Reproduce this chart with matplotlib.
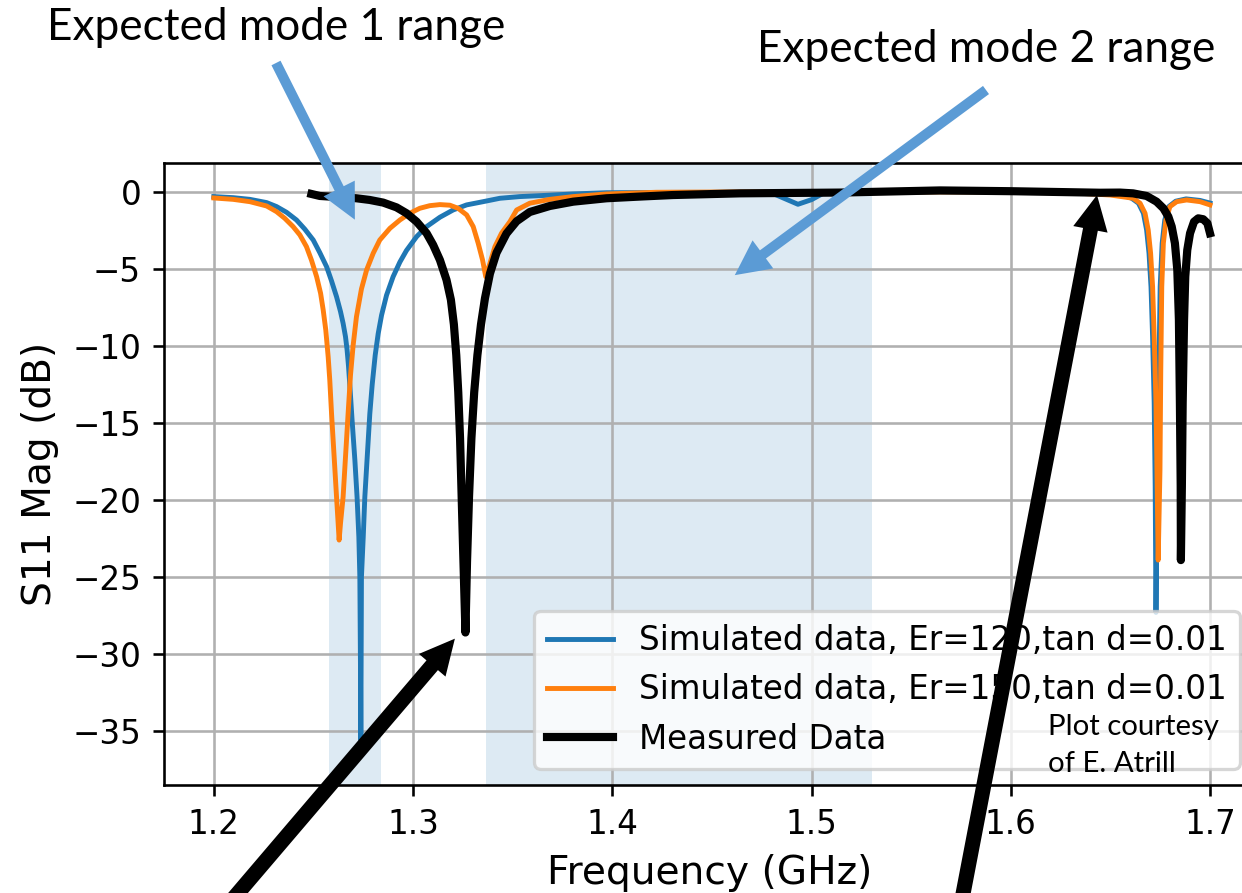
import matplotlib
matplotlib.use("Agg")
import matplotlib.pyplot as plt

# ---- measured / simulated S11 magnitude (dB) versus frequency (GHz) ----
sim120_freq = [1.2000, 1.2097, 1.2181, 1.2265, 1.2315, 1.2365, 1.2415, 1.2457, 1.2499, 1.2532,
               1.2566, 1.2591, 1.2616, 1.2636, 1.2649, 1.2661, 1.2669, 1.2676, 1.2684, 1.2694,
               1.2708, 1.2719, 1.2728, 1.2733, 1.2736, 1.2738, 1.2741, 1.2750, 1.2758, 1.2770,
               1.2783, 1.2795, 1.2810, 1.2825, 1.2842, 1.2867, 1.2900, 1.2934, 1.2967, 1.3018,
               1.3068, 1.3135, 1.3201, 1.3269, 1.3352, 1.3436, 1.3536, 1.3637, 1.3802, 1.3971,
               1.4300, 1.4600, 1.4806, 1.4860, 1.4932, 1.5000, 1.5057, 1.5200, 1.5500, 1.6000,
               1.6400, 1.6550, 1.6607, 1.6641, 1.6666, 1.6682, 1.6694, 1.6704, 1.6712, 1.6720,
               1.6725, 1.6729, 1.6735, 1.6742, 1.6750, 1.6760, 1.6773, 1.6793, 1.6828, 1.6880,
               1.6950, 1.7000]
sim120_db = [-0.30, -0.37, -0.48, -0.69, -0.95, -1.32, -1.82, -2.42, -3.12, -3.94,
             -4.85, -5.78, -6.80, -7.77, -8.53, -9.40, -10.26, -11.3, -12.8, -14.8,
             -17.4, -19.8, -22.4, -25.0, -30.6, -35.6, -25.0, -22.4, -19.8, -17.2,
             -14.4, -12.5, -10.6, -9.2, -8.0, -6.7, -5.5, -4.55, -3.8, -2.9,
             -2.25, -1.64, -1.17, -0.84, -0.63, -0.41, -0.30, -0.24, -0.13, -0.05,
             -0.03, -0.03, -0.1, -0.4, -0.8, -0.5, -0.1, -0.03, 0.0, 0.0,
             -0.05, -0.15, -0.41, -0.73, -1.38, -2.47, -3.98, -6.15, -9.4, -13.7,
             -19.1, -27.3, -20.0, -13.0, -6.15, -3.33, -1.82, -0.95, -0.6, -0.45,
             -0.55, -0.72]

sim150_freq = [1.2000, 1.2097, 1.2181, 1.2265, 1.2315, 1.2356, 1.2398, 1.2432, 1.2465, 1.2490,
               1.2516, 1.2536, 1.2549, 1.2562, 1.2574, 1.2582, 1.2591, 1.2604, 1.2616, 1.2624,
               1.2629, 1.2636, 1.2649, 1.2661, 1.2674, 1.2686, 1.2699, 1.2716, 1.2741, 1.2767,
               1.2800, 1.2833, 1.2884, 1.2934, 1.2984, 1.3034, 1.3084, 1.3135, 1.3185, 1.3226,
               1.3269, 1.3302, 1.3327, 1.3349, 1.3365, 1.3386, 1.3411, 1.3444, 1.3486, 1.3520,
               1.3586, 1.3687, 1.3804, 1.3971, 1.4222, 1.4600, 1.5000, 1.5500, 1.6000, 1.6300,
               1.6500, 1.6615, 1.6649, 1.6674, 1.6690, 1.6702, 1.6712, 1.6720, 1.6729, 1.6735,
               1.6740, 1.6749, 1.6753, 1.6758, 1.6766, 1.6779, 1.6799, 1.6833, 1.6883, 1.6950,
               1.7000]
sim150_db = [-0.39, -0.48, -0.63, -0.91, -1.28, -1.71, -2.25, -2.79, -3.55, -4.42,
             -5.5, -6.58, -7.66, -8.96, -10.7, -12.2, -14.4, -17.2, -19.8, -21.5,
             -22.6, -21.5, -19.8, -17.2, -14.4, -11.9, -10.0, -8.1, -6.3, -5.06,
             -3.98, -3.12, -2.36, -1.82, -1.38, -1.06, -0.89, -0.82, -0.86, -1.06,
             -1.49, -2.25, -3.33, -4.42, -5.5, -4.63, -3.55, -2.68, -1.93, -1.17,
             -0.73, -0.48, -0.3, -0.13, -0.02, 0.0, 0.0, 0.0, 0.0, -0.05,
             -0.2, -0.41, -0.73, -1.38, -2.47, -3.98, -6.15, -9.4, -13.7, -19.1,
             -23.9, -18.05, -11.6, -6.15, -3.33, -1.82, -0.95, -0.63, -0.52, -0.63,
             -0.84]

meas_freq = [1.2490, 1.2532, 1.2716, 1.2783, 1.2850, 1.2917, 1.2967, 1.3018, 1.3068, 1.3101,
             1.3135, 1.3168, 1.3190, 1.3205, 1.3217, 1.3227, 1.3236, 1.3244, 1.3253, 1.3263,
             1.3271, 1.3281, 1.3293, 1.3307, 1.3323, 1.3341, 1.3361, 1.3386, 1.3419, 1.3469,
             1.3520, 1.3586, 1.3687, 1.3804, 1.3971, 1.4139, 1.4304, 1.4641, 1.5143, 1.5645,
             1.6000, 1.6448, 1.6548, 1.6614, 1.6682, 1.6732, 1.6766, 1.6791, 1.6808, 1.6824,
             1.6836, 1.6844, 1.6849, 1.6853, 1.6854, 1.6859, 1.6863, 1.6870, 1.6876, 1.6886,
             1.6900, 1.6920, 1.6941, 1.6966, 1.6987, 1.7000]
meas_db = [-0.13, -0.26, -0.41, -0.52, -0.69, -1.0, -1.38, -1.93, -2.68, -3.44,
           -4.42, -5.71, -7.0, -8.6, -10.6, -13.0, -16.0, -19.8, -24.0, -28.6,
           -24.0, -19.8, -16.0, -13.0, -10.6, -8.6, -6.9, -5.3, -3.95, -2.7,
           -1.9, -1.3, -0.91, -0.63, -0.41, -0.3, -0.2, -0.09, -0.04, 0.1,
           0.05, -0.05, -0.04, -0.09, -0.26, -0.63, -1.06, -1.6, -2.25, -3.33,
           -5.06, -8.3, -13.7, -19.1, -23.9, -19.1, -13.7, -8.3, -5.5, -3.77,
           -2.68, -1.93, -1.71, -1.77, -2.03, -2.68]

series_labels = ["Simulated data, Er=120,tan d=0.01",
                 "Simulated data, Er=150,tan d=0.01",
                 "Measured Data"]

# expected frequency windows of the two modes (GHz)
mode1_range = (1.2578, 1.2839)
mode2_range = (1.3367, 1.5302)

# points the callout arrows indicate (GHz, dB)
mode1_target = (1.2708, -1.8)
mode2_target = (1.4615, -5.4)
meas_dip_target = (1.3210, -29.0)
meas_flat_target = (1.6433, -0.2)

W, H, DPI = 1242, 893, 235
fig = plt.figure(figsize=(W / DPI, H / DPI), dpi=DPI)

def fx(x):
    return x / W

def fy(y):
    return 1 - y / H

ax = fig.add_axes([fx(164), fy(785), fx(1256) - fx(164), fy(163) - fy(785)])

for lo, hi in (mode1_range, mode2_range):
    ax.axvspan(lo, hi, color="C0", alpha=0.15, lw=0)

ax.plot(sim120_freq, sim120_db, color="C0", lw=1.5, label=series_labels[0])
ax.plot(sim150_freq, sim150_db, color="C1", lw=1.5, label=series_labels[1])
ax.plot(meas_freq, meas_db, color="black", lw=2.5, label=series_labels[2])

ax.set_xlim(1.175, 1.7231)
ax.set_ylim(-38.5, 1.88)
ax.set_xticks([1.2, 1.3, 1.4, 1.5, 1.6, 1.7])
ax.set_yticks([0, -5, -10, -15, -20, -25, -30, -35])
ax.grid(True)
ax.set_xlabel("Frequency (GHz)", fontsize=12)
ax.set_ylabel("S11 Mag (dB)", fontsize=12)
ax.legend(loc="lower right")

# callout texts
note_font = ["Lato", "DejaVu Sans"]
fig.text(fx(47), fy(40), "Expected mode 1 range", family=note_font, fontsize=13.5,
         ha="left", va="baseline")
fig.text(fx(757), fy(62), "Expected mode 2 range", family=note_font, fontsize=13.5,
         ha="left", va="baseline")
fig.text(fx(1048), fy(735), "Plot courtesy", family=note_font, fontsize=9.0,
         ha="left", va="baseline", zorder=10)
fig.text(fx(1048), fy(772), "of E. Atrill", family=note_font, fontsize=9.0,
         ha="left", va="baseline", zorder=10)

# callout arrows: tails in figure pixels, heads on the data
def callout(target, tail_px, color, tail_w):
    ax.annotate("", xy=target, xycoords="data",
                xytext=(tail_px[0], H - tail_px[1]), textcoords="figure pixels",
                arrowprops=dict(arrowstyle=f"simple,head_length=10.7,head_width=10.7,tail_width={tail_w}",
                                mutation_scale=1, color=color, lw=0,
                                shrinkA=0, shrinkB=0),
                annotation_clip=False, zorder=10)

callout(mode1_target, (276, 63), "#5B9BD5", 3.1)
callout(mode2_target, (986, 90), "#5B9BD5", 3.1)
callout(meas_dip_target, (215, 920), "black", 4.6)
callout(meas_flat_target, (958, 920), "black", 4.6)

fig.savefig("out.png", dpi=DPI)
